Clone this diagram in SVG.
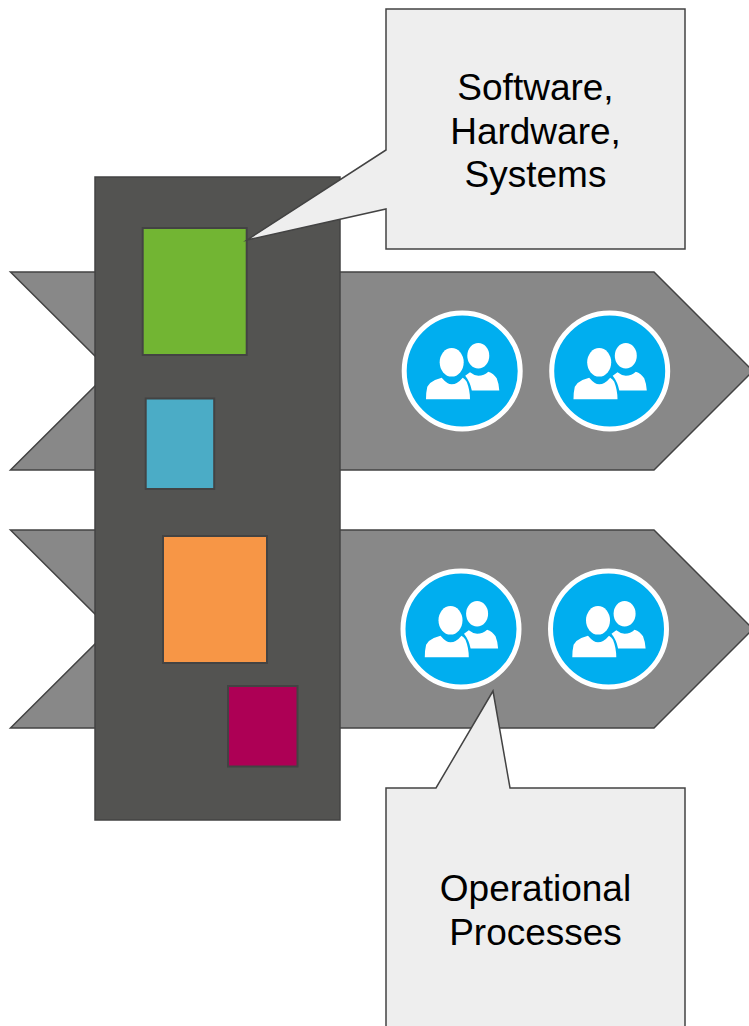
<svg xmlns="http://www.w3.org/2000/svg" xmlns:xlink="http://www.w3.org/1999/xlink" width="749" height="1026" viewBox="0 0 749 1026">
<style>
.arrow{fill:#888888;stroke:#434343;stroke-width:1.5;stroke-linejoin:miter}
.box{stroke:#434343;stroke-width:2;stroke-linejoin:miter}
.callout{fill:#eeeeee;stroke:#434343;stroke-width:1.5;stroke-linejoin:miter;stroke-miterlimit:12}
.label{font-family:"Liberation Sans",Arial,sans-serif;font-size:37px;fill:#000;text-anchor:middle}
</style>
<defs>
<g id="people">
<circle r="58" fill="#00AEEF" stroke="#fff" stroke-width="5"/>
<g fill="#fff">
<ellipse cx="16.100" cy="-15.300" rx="11" ry="12.700"/>
<path d="M3 4.700 L7.800 1.300 Q12 4.700 16.100 4.700 Q22 4.700 26.100 0.700 Q31.500 2.500 34.500 7.300 Q36.800 13 37.100 19.500 L9.600 19.500 Q8 11 3 4.700 Z"/>
<path d="M-36.200 28.300 Q-36.200 21 -34.900 15.700 Q-32 11 -27.200 9 L-20.500 6.700 Q-15 13.300 -10.500 13.300 Q-5 13.300 0.500 6.700 Q3 8 4.500 10.700 Q7.800 19 7.800 28.300 Z"/>
<ellipse cx="-10.500" cy="-8.700" rx="12" ry="14.300"/>
</g>
</g>
</defs>
<g id="connectors"></g>
<g id="arrow-top"><path class="arrow" d="M10.500 272H654L753 371L654 470H10.500L110 371Z"/></g>
<g id="arrow-bottom"><path class="arrow" d="M10.500 530H654L753 629L654 728H10.500L110 629Z"/></g>
<g id="panel"><rect class="box" style="stroke-width:1.500" x="95" y="177" width="245" height="643" fill="#535351"/></g>
<g id="box-green"><rect class="box" x="142.700" y="228" width="104" height="127" fill="#72B533"/></g>
<g id="box-blue"><rect class="box" x="145.700" y="398.500" width="68.500" height="90.500" fill="#4BACC6"/></g>
<g id="box-orange"><rect class="box" x="163" y="536" width="104" height="127" fill="#F79646"/></g>
<g id="box-maroon"><rect class="box" x="228" y="686" width="69.500" height="80.500" fill="#AD0055"/></g>
<g id="icon-1"><use xlink:href="#people" href="#people" x="462.200" y="371"/></g>
<g id="icon-2"><use xlink:href="#people" href="#people" x="609.700" y="371"/></g>
<g id="icon-3"><use xlink:href="#people" href="#people" x="461" y="629"/></g>
<g id="icon-4"><use xlink:href="#people" href="#people" x="608.500" y="629"/></g>
<g id="callout-top">
<path class="callout" d="M386 9H685V249H386V209L247 240L386 150Z"/>
<text class="label" x="535.500" y="100">Software,</text>
<text class="label" x="535.500" y="144">Hardware,</text>
<text class="label" x="535.500" y="187">Systems</text>
</g>
<g id="callout-bottom">
<path class="callout" d="M386 788H436L493 691L510 788H685V1030H386Z"/>
<text class="label" x="535.500" y="901">Operational</text>
<text class="label" x="535.500" y="945">Processes</text>
</g>
</svg>
